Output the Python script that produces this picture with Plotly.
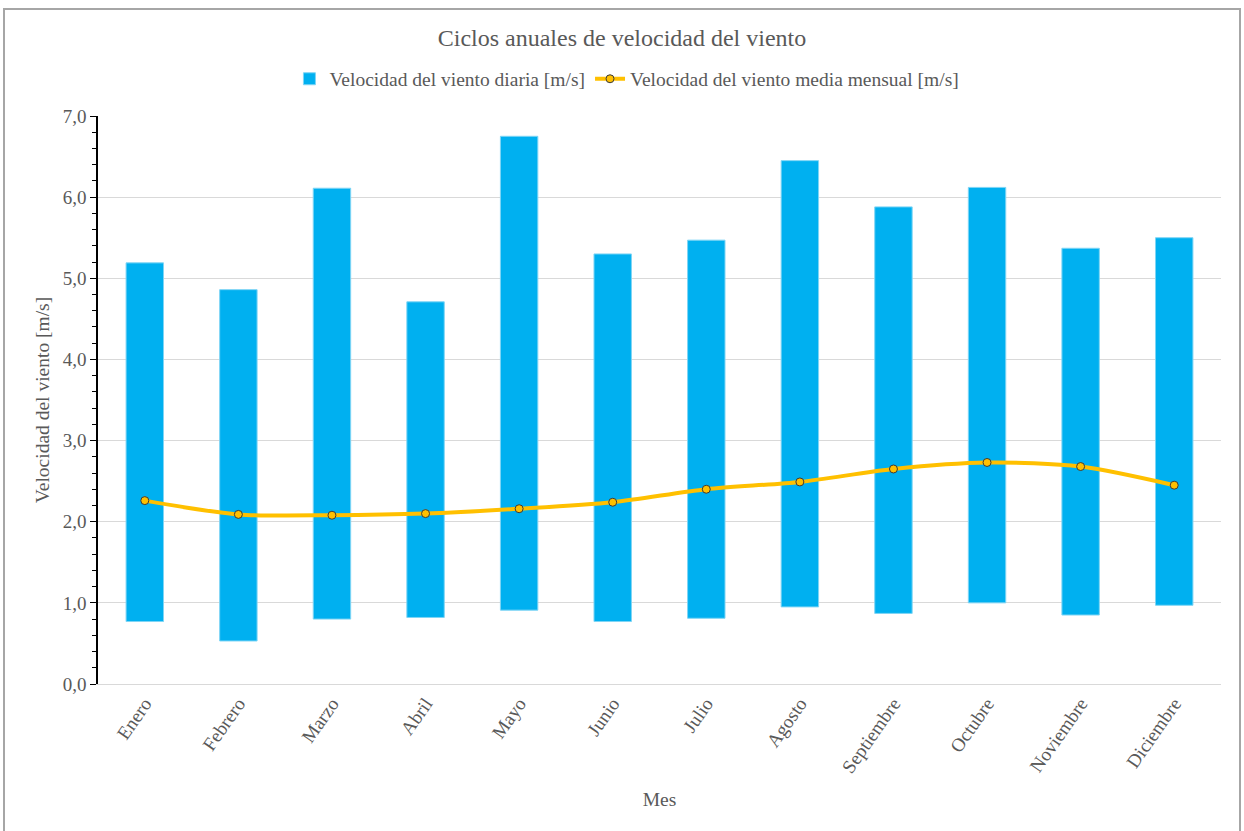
import plotly.graph_objects as go

meses = ["Enero", "Febrero", "Marzo", "Abril", "Mayo", "Junio", "Julio",
         "Agosto", "Septiembre", "Octubre", "Noviembre", "Diciembre"]
v_min = [0.77, 0.53, 0.80, 0.82, 0.91, 0.77, 0.81, 0.95, 0.87, 1.00, 0.85, 0.97]
v_max = [5.19, 4.86, 6.11, 4.71, 6.75, 5.30, 5.47, 6.45, 5.88, 6.12, 5.37, 5.50]
v_media = [2.26, 2.09, 2.08, 2.10, 2.16, 2.24, 2.40, 2.49, 2.65, 2.73, 2.68, 2.45]

FONT = "Liberation Serif, Times New Roman, serif"
GREY = "#595959"

fig = go.Figure()
fig.add_trace(go.Bar(
    x=meses,
    y=[hi - lo for hi, lo in zip(v_max, v_min)],
    base=v_min,
    width=0.4,
    name="Velocidad del viento diaria [m/s]",
    marker=dict(color="#00B0F0", line=dict(color="#7FD5F5", width=1)),
))
fig.add_trace(go.Scatter(
    x=meses,
    y=v_media,
    mode="lines+markers",
    line=dict(color="#FFC000", width=4, shape="spline", smoothing=0.8),
    marker=dict(symbol="circle", size=8, color="#FFC000",
                line=dict(color="#3a3a3a", width=1)),
    name="Velocidad del viento media mensual [m/s]",
))

fig.update_layout(
    width=1244, height=831,
    margin=dict(l=98, r=23, t=116, b=147),
    paper_bgcolor="white", plot_bgcolor="white",
    separators=",.",
    font=dict(family=FONT, color=GREY, size=19),
    title=dict(text="Ciclos anuales de velocidad del viento",
               x=0.5, xanchor="center", y=1 - 38 / 831, yanchor="middle",
               font=dict(size=24, color=GREY, family=FONT)),
    legend=dict(orientation="h", x=0.471, xanchor="center",
                y=1.065, yanchor="middle",
                font=dict(size=19.5, color=GREY, family=FONT),
                itemwidth=30, tracegroupgap=0),
    showlegend=True,
)
fig.update_xaxes(
    range=[-0.5, 11.5],
    tickangle=-55,
    showgrid=False,
    showline=True, linecolor="#D9D9D9", linewidth=1,
    ticks="",
    tickfont=dict(size=19, color=GREY, family=FONT),
    title=dict(text="Mes", standoff=16, font=dict(size=19.5, color=GREY, family=FONT)),
)
fig.update_yaxes(
    range=[0, 7],
    dtick=1,
    tickformat=".1f",
    showgrid=True, gridcolor="#D9D9D9", gridwidth=1,
    zeroline=False,
    showline=True, linecolor="black", linewidth=1.5,
    ticks="outside", ticklen=6, tickcolor="black", tickwidth=1,
    minor=dict(dtick=0.2, ticks="outside", ticklen=4, tickcolor="black", showgrid=False),
    tickfont=dict(size=19, color=GREY, family=FONT),
    title=dict(text="Velocidad del viento [m/s]", standoff=8,
               font=dict(size=19.5, color=GREY, family=FONT)),
)

# outer chart border
fig.add_shape(type="rect", xref="paper", yref="paper",
              x0=(4 - 98) / 1123, x1=(1240 - 98) / 1123,
              y0=(684 - 840) / 568, y1=(684 - 9) / 568,
              line=dict(color="#A6A6A6", width=2), fillcolor="rgba(0,0,0,0)",
              layer="below")

fig.write_html("out.html")
